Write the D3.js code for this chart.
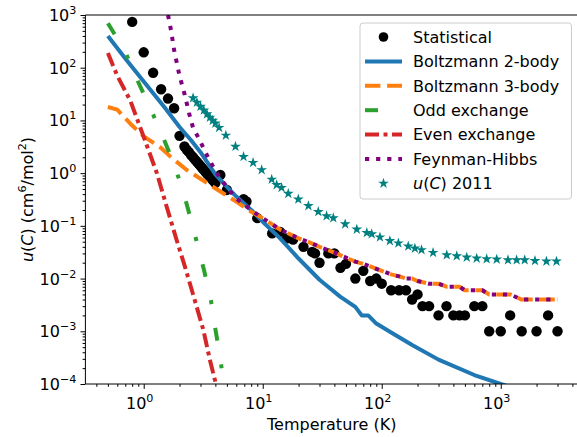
<!DOCTYPE html>
<html><head><meta charset="utf-8">
<script src="https://cdn.jsdelivr.net/npm/d3@7/dist/d3.min.js"></script>
<style>body{margin:0;background:#fff} svg{display:block} text{font-family:"DejaVu Sans",sans-serif;fill:#000}</style>
</head><body><svg id="c" width="577" height="437"></svg>
<script>
// ---- data ----
const statT = [0.8,1.0,1.2,1.4,1.6,1.8,2.0,2.2,2.3,2.4,2.5,2.6,2.7,2.8,2.9,3.0,3.1,3.2,3.3,3.4,3.5,3.6,3.7,3.8,3.9,4.0,4.4,5,6.9,7.3,9,12,14,16,18,22,26,27.5,30,35.6,40,45,50,60,70,80,90,100,120,140,160,180,200,220,250,300,350,400,450,500,600,700,800,1000,1200,1500,2000,2500,3000];
const statU = [740,196,80,39,26,17,5.1,3.2,2.77,2.5,2.2,2.0,1.8,1.64,1.5,1.37,1.25,1.15,1.06,0.98,0.92,0.85,0.8,0.74,0.7,0.65,0.92,0.48,0.32,0.29,0.14,0.072,0.077,0.058,0.055,0.04,0.032,0.03,0.02,0.03,0.03,0.016,0.019,0.01,0.014,0.009,0.01,0.008,0.006,0.006,0.006,0.004,0.005,0.003,0.003,0.002,0.003,0.002,0.002,0.002,0.003,0.003,0.001,0.001,0.002,0.001,0.001,0.002,0.001];

const b2T = [0.5,0.7,1,1.5,2,2.5,3,4,5,6,8,10,14,20,30,45,60,68,77,90,120,180,300,600,1000,1500];
const b2U = [400,150,55,17.5,7.5,4.2,2.5,0.95,0.55,0.36,0.2,0.12,0.058,0.024,0.0095,0.0045,0.0029,0.002,0.002,0.0014,0.00095,0.00055,0.00029,0.000148,0.0001,0.000075];

const b3T = [0.5,0.6,0.7,0.8,1.0,1.4,1.7,2.3,3.6,5.7,8,10,14,20,25,30,40,50,60,70,80,100,120,140,160,180,200,250,300,350,400,450,500,600,700,800,1000,1200,1500,2000,2500,3000];
const b3U = [18,16,11,8,5,3,2,1.15,0.6,0.31,0.185,0.14,0.085,0.058,0.048,0.04,0.031,0.025,0.021,0.019,0.017,0.014,0.012,0.011,0.01,0.01,0.009,0.008,0.008,0.007,0.007,0.007,0.006,0.006,0.006,0.005,0.005,0.005,0.004,0.004,0.004,0.004];

const oddT = [0.5,0.7,0.87,1.1,1.37,1.72,2.09,2.42,2.79,3.21,3.65,3.97,4.38,4.7,5.0];
const oddU = [700,200,63,20,6.6,1.9,0.55,0.168,0.05,0.0145,0.0042,0.00122,0.00033,0.0001,0.00004];

const evenT = [0.5,0.6,0.77,0.93,1.07,1.29,1.56,1.89,2.22,2.6,3.17,3.6,4.0,4.2];
const evenU = [190,70,24,7.6,3.2,1.0,0.23,0.054,0.0168,0.005,0.00106,0.000285,0.00011,0.00006];

const fhT = [1.6,1.7,1.8,2.0,2.2,2.4,2.6,2.8,3.0,3.4,4,5,6,7,8,9,10,14,20,25,30,40,50,60,70,80,100,120,140,160,180,200,250,300,350,400,450,500,600,700,800,1000,1200,1500,2000,2500,3000];
const fhU = [1000,500,217,70,32,14,7.2,5.3,3.9,2.2,1.1,0.54,0.33,0.25,0.2,0.165,0.14,0.085,0.058,0.048,0.04,0.031,0.025,0.021,0.019,0.017,0.014,0.012,0.011,0.01,0.01,0.009,0.008,0.008,0.007,0.007,0.007,0.006,0.006,0.006,0.005,0.005,0.005,0.004,0.004,0.004,0.004];

const u11T = [2.6,2.8,3.0,3.2,3.4,3.6,3.8,4.0,4.3,4.9,5.9,6.9,8.3,9.8,11.9,13.1,14.4,16.4,19.9,24.2,29.3,34.4,39.2,49.3,61.7,74.9,82.4,96.6,117,138,167,190,216,270,352,427,518,628,762,925,1150,1360,1590,1940,2420,2940];
const u11U = [26.6,22,18.4,15.6,13.2,11.4,9.98,8.8,7.3,5.2,3.2,2.05,1.58,1.15,0.76,0.6,0.53,0.41,0.32,0.24,0.185,0.154,0.141,0.108,0.086,0.074,0.07,0.061,0.052,0.047,0.041,0.0375,0.035,0.031,0.028,0.0268,0.0253,0.0242,0.0235,0.0232,0.0225,0.0225,0.0225,0.0218,0.0212,0.0212];

const legendLabels = ["Statistical","Boltzmann 2-body","Boltzmann 3-body","Odd exchange","Even exchange","Feynman-Hibbs","u(C) 2011"];
const xTickExp = [0,1,2,3];
const yTickExp = [-4,-3,-2,-1,0,1,2,3];

// ---- layout ----
const svg = d3.select("#c");
const L = 85.4, R = 580, T = 15, B = 384;
const x = d3.scaleLog().domain([Math.pow(10,-0.49), Math.pow(10,3.666)]).range([L,R]);
const y = d3.scaleLog().domain([1e-4,1e3]).range([B,T]);
const FS = 16;

svg.append("clipPath").attr("id","clp").append("rect")
  .attr("x",L).attr("y",T).attr("width",R-L).attr("height",B-T);
const plot = svg.append("g").attr("clip-path","url(#clp)");

const line = d3.line().x(d=>x(d[0])).y(d=>y(d[1]));
const zip = (a,b)=>a.map((v,i)=>[v,b[i]]);

// statistical dots
plot.append("g").selectAll("circle").data(zip(statT,statU)).join("circle")
  .attr("cx",d=>x(d[0])).attr("cy",d=>y(d[1])).attr("r",5.2).attr("fill","#000");

const LW = 4;
const styles = {
  b2:{c:"#1f77b4",dash:null},
  b3:{c:"#ff7f0e",dash:"15.4,6.7"},
  odd:{c:"#2ca02c",dash:"13,24,4,24"},
  even:{c:"#d62728",dash:"14,4.5,4,4.5"},
  fh:{c:"#800080",dash:"4.2,6.9"}
};
function drawLine(xs,ys,s){
  plot.append("path").attr("d",line(zip(xs,ys))).attr("fill","none")
    .attr("stroke",s.c).attr("stroke-width",LW).attr("stroke-dasharray",s.dash)
    .attr("stroke-linejoin","round").attr("stroke-linecap", "butt");
}
drawLine(b2T,b2U,styles.b2);
drawLine(b3T,b3U,styles.b3);
drawLine(oddT,oddU,styles.odd);
drawLine(evenT,evenU,styles.even);
drawLine(fhT,fhU,styles.fh);

const star = d3.symbol().type(d3.symbolStar).size(36);
plot.append("g").selectAll("path").data(zip(u11T,u11U)).join("path")
  .attr("transform",d=>`translate(${x(d[0])},${y(d[1])})`).attr("d",star).attr("fill","#008080");

// ---- axes ----
function minorVals(lo,hi){const v=[];for(let e=lo;e<=hi;e++)for(let k=2;k<=9;k++)v.push(k*Math.pow(10,e));return v;}
const xMajor = xTickExp.map(e=>Math.pow(10,e));
const yMajor = yTickExp.map(e=>Math.pow(10,e));
const [xd0,xd1]=x.domain();
const xMinor = minorVals(-1,3).filter(v=>v>=xd0&&v<=xd1);
const yMinor = minorVals(-4,2);

const ax = svg.append("g").attr("transform",`translate(0,${B})`);
ax.call(d3.axisBottom(x).tickValues(xMajor).tickSize(4.9).tickFormat(""));
ax.append("g").call(d3.axisBottom(x).tickValues(xMinor).tickSize(2.8).tickFormat(""));
const ay = svg.append("g").attr("transform",`translate(${L},0)`);
ay.call(d3.axisLeft(y).tickValues(yMajor).tickSize(4.9).tickFormat(""));
ay.append("g").call(d3.axisLeft(y).tickValues(yMinor).tickSize(2.8).tickFormat(""));
svg.selectAll(".domain").remove();
svg.selectAll(".tick line").attr("stroke","#000").attr("stroke-width",1);

// spines
[[L,T,L,B],[L,B,R,B],[L,T,R,T],[R,T,R,B]].forEach(s=>{
  svg.append("line").attr("x1",s[0]).attr("y1",s[1]).attr("x2",s[2]).attr("y2",s[3]).attr("stroke","#000").attr("stroke-width",1);
});

function powLabel(g,e){
  g.append("tspan").text("10");
  g.append("tspan").attr("dy",-7).attr("font-size",FS*0.7).text(e<0?"\u2212"+(-e):String(e));
}
xTickExp.forEach(e=>{
  const t = svg.append("text").attr("x",x(Math.pow(10,e))-4).attr("y",B+25).attr("text-anchor","middle").attr("font-size",FS);
  powLabel(t,e);
});
yTickExp.forEach(e=>{
  const t = svg.append("text").attr("x",L-9).attr("y",y(Math.pow(10,e))+6).attr("text-anchor","end").attr("font-size",FS);
  powLabel(t,e);
});

svg.append("text").attr("x",(L+R)/2-1).attr("y",430).attr("text-anchor","middle").attr("font-size",FS).text("Temperature (K)");

const yl = svg.append("text").attr("transform",`translate(33,${(T+B)/2}) rotate(-90)`).attr("text-anchor","middle").attr("font-size",FS);
yl.append("tspan").attr("font-style","italic").text("u");
yl.append("tspan").text("(");
yl.append("tspan").attr("font-style","italic").text("C");
yl.append("tspan").text(") (cm");
yl.append("tspan").attr("dy",-7).attr("font-size",FS*0.7).text("6");
yl.append("tspan").attr("dy",7).text("/mol");
yl.append("tspan").attr("dy",-7).attr("font-size",FS*0.7).text("2");
yl.append("tspan").attr("dy",7).text(")");

// ---- legend ----
const lg = svg.append("g");
lg.append("rect").attr("x",360).attr("y",23).attr("width",211.5).attr("height",176).attr("rx",3)
  .attr("fill","#fff").attr("fill-opacity",0.8).attr("stroke","#ccc").attr("stroke-width",1);
const rowY = i=>37+i*24.4;
const hx0=365, hx1=402;
legendLabels.forEach((lab,i)=>{
  const cy = rowY(i);
  if(i===0){
    lg.append("circle").attr("cx",(hx0+hx1)/2).attr("cy",cy).attr("r",4.8).attr("fill","#000");
  } else if(i===6){
    lg.append("path").attr("transform",`translate(${(hx0+hx1)/2},${cy})`).attr("d",star).attr("fill","#008080");
  } else {
    const s=[styles.b2,styles.b3,styles.odd,styles.even,styles.fh][i-1];
    lg.append("line").attr("x1",hx0).attr("x2",hx1).attr("y1",cy).attr("y2",cy)
      .attr("stroke",s.c).attr("stroke-width",LW).attr("stroke-dasharray",s.dash);
  }
  const t = lg.append("text").attr("x",413).attr("y",cy+5.8).attr("font-size",FS);
  if(i===6){
    t.append("tspan").attr("font-style","italic").text("u");
    t.append("tspan").text("(");
    t.append("tspan").attr("font-style","italic").text("C");
    t.append("tspan").text(") 2011");
  } else t.text(lab);
});
</script></body></html>
